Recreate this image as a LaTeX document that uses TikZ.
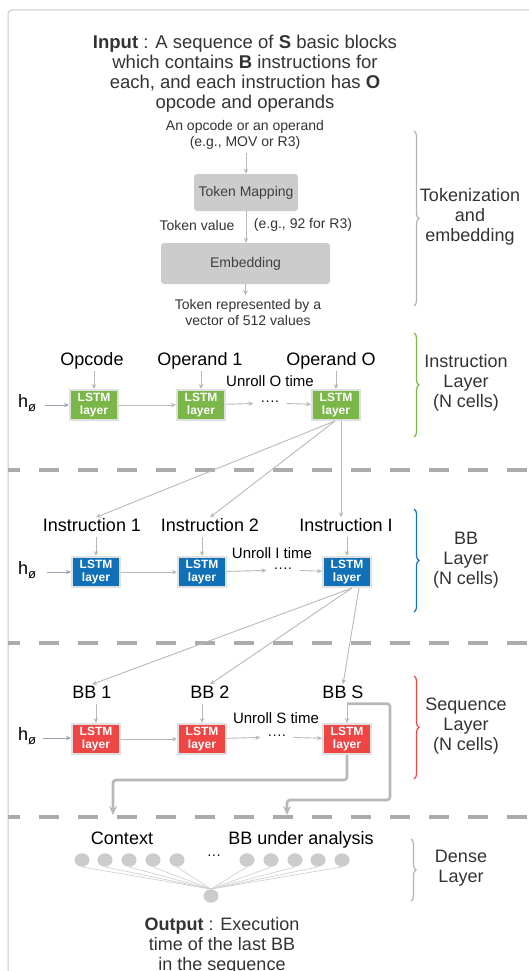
\documentclass[tikz,border=0pt]{standalone}
\usepackage{fontspec}
\setmainfont{Liberation Sans}
\usetikzlibrary{arrows.meta,decorations.pathreplacing}
\definecolor{lstmgreen}{HTML}{7AB648}
\definecolor{lstmblue}{HTML}{1071B8}
\definecolor{lstmred}{HTML}{EE4545}
\definecolor{linegray}{HTML}{B8B8B8}
\definecolor{boxgray}{HTML}{CCCCCC}
\definecolor{textgray}{HTML}{333333}
\definecolor{hgray}{HTML}{9AA6B4}
\tikzset{
  >={Stealth[length=5pt,width=4.5pt]},
  flow/.style={->,draw=linegray,line width=0.9pt},
  feed/.style={-{Stealth[length=9pt,width=8pt]},draw=linegray,line width=2.6pt,rounded corners=3pt},
  lstm/.style={draw=black!12,line width=2pt,minimum width=48pt,minimum height=30pt,inner sep=0pt,text=white,align=center,font=\fontsize{12}{13}\selectfont\bfseries},
  tokbox/.style={fill=boxgray,rounded corners=3pt,text=black!75,font=\fontsize{14}{16}\selectfont},
  lbl/.style={font=\fontsize{18}{20}\selectfont,text height=13pt,text depth=4pt,inner sep=1pt},
  side/.style={font=\fontsize{18}{20}\selectfont,text=textgray,align=center},
  note/.style={font=\fontsize{14}{16}\selectfont,text=textgray,align=center},
  unroll/.style={font=\fontsize{15}{17}\selectfont},
  dots/.style={font=\fontsize{14}{16}\selectfont,inner sep=7pt},
  layersep/.style={draw=black!33,line width=4pt,dash pattern=on 20pt off 19pt,dash phase=8pt},
  cbrace/.style={decorate,decoration={brace,amplitude=5pt},line width=1.2pt},
  neuron/.style={ellipse,fill=boxgray,minimum width=15pt,minimum height=13.5pt,inner sep=0pt},
}
\usetikzlibrary{shapes.geometric}
\begin{document}
\begin{tikzpicture}[x=1pt,y=-1pt]
  \useasboundingbox (0,0) rectangle (529,971);
  \clip (0,0) rectangle (529,971);
  % Frame
  \draw[black!22,line width=1pt,rounded corners=4pt] (8,10) rectangle (560,1000);

  % Tokenization and embedding
  \node[font=\fontsize{18.5}{20}\selectfont,text=textgray,align=center] (input) at (245,74)
    {\textbf{Input} : A sequence of \textbf{S} basic blocks\\which contains \textbf{B} instructions for\\each, and each instruction has \textbf{O}\\opcode and operands};
  \node[note] (tokin) at (245,135) {An opcode or an operand\\(e.g., MOV or R3)};
  \node[tokbox,minimum width=104pt,minimum height=37pt] (tokmap) at (246,192.5) {Token Mapping};
  \node[tokbox,minimum width=169pt,minimum height=41pt] (embed) at (245.5,263.5) {Embedding};
  \node[note] (tokrep) at (248,312) {Token represented by a\\vector of 512 values};
  \node[note] (tokval) at (197,225) {Token value};
  \node[note] (tokex) at (303,225) {(e.g., 92 for R3)};
  \draw[flow] (tokin.south -| tokmap) -- (tokmap.north);
  \draw[flow] (tokmap.south) -- (tokmap.south |- embed.north);
  \draw[flow] (embed.south) -- (embed.south |- tokrep.north);
  \draw[cbrace,black!30] (414,131) -- (414,306);
  \node[side] (tokside) at (470,217) {Tokenization\\and\\embedding};

  % Instruction layer
  \node[lbl] (opc) at (92,361) {Opcode};
  \node[lbl] (opd1) at (200,361) {Operand 1};
  \node[lbl] (opdO) at (331,361) {Operand O};
  \node[lstm,fill=lstmgreen] (g1) at (94,405) {LSTM\\layer};
  \node[lstm,fill=lstmgreen] (g2) at (201,405) {LSTM\\layer};
  \node[lstm,fill=lstmgreen] (gO) at (336,405) {LSTM\\layer};
  \node[dots] (gd) at (270,403) {····};
  \node[unroll] (gun) at (270,381) {Unroll O time};
  \node[lbl] (h1) at (27,403) {h\raisebox{-4pt}{\fontsize{13}{13}\selectfont ø}};
  \draw[flow,hgray] (h1.east) ++(8,2) coordinate (h1s) -- (h1s -| g1.west);
  \draw[flow] (opc.south -| g1) -- (g1.north);
  \draw[flow] (opd1.south -| g2) -- (g2.north);
  \draw[flow] (opdO.south -| gO) -- (gO.north);
  \draw[flow] (g1) -- (g2);
  \draw[flow] (g2) -- (gd);
  \draw[flow] (gd) -- (gO);
  \draw[cbrace,lstmgreen] (414,333) -- (414,437);
  \node[side] (insside) at (466,383) {Instruction\\Layer\\(N cells)};

  \draw[layersep] (8,470) -- (529,470);

  % BB layer
  \node[lbl] (ins1) at (92,527) {Instruction 1};
  \node[lbl] (ins2) at (210,527) {Instruction 2};
  \node[lbl] (insI) at (346,527) {Instruction I};
  \node[lstm,fill=lstmblue] (b1) at (96,572) {LSTM\\layer};
  \node[lstm,fill=lstmblue] (b2) at (202,572) {LSTM\\layer};
  \node[lstm,fill=lstmblue] (bI) at (347,572) {LSTM\\layer};
  \node[dots] (bd) at (283,570) {····};
  \node[unroll] (bun) at (272,553) {Unroll I time};
  \node[lbl] (h2) at (27,570) {h\raisebox{-4pt}{\fontsize{13}{13}\selectfont ø}};
  \draw[flow,hgray] (h2.east) ++(10,2) coordinate (h2s) -- (h2s -| b1.west);
  \draw[flow] ([xshift=-1pt]gO.south) -- (ins1.north -| b1);
  \draw[flow] ([xshift=-1pt]gO.south) -- (ins2.north);
  \draw[flow] ([xshift=5pt]gO.south) -- ([xshift=5pt]gO.south |- insI.north);
  \draw[flow] (ins1.south -| b1) -- (b1.north);
  \draw[flow] (ins2.south -| b2) -- (b2.north);
  \draw[flow] (insI.south -| bI) -- (bI.north);
  \draw[flow] (b1) -- (b2);
  \draw[flow] (b2) -- (bd);
  \draw[flow] (bd) -- (bI);
  \draw[cbrace,lstmblue] (414,509) -- (414,612);
  \node[side] (bbside) at (466,560) {BB\\Layer\\(N cells)};

  \draw[layersep] (8,643) -- (529,643);

  % Sequence layer
  \node[lbl] (bb1) at (92,694) {BB 1};
  \node[lbl] (bb2) at (210,694) {BB 2};
  \node[lbl] (bbS) at (343,694) {BB S};
  \node[lstm,fill=lstmred] (r1) at (96,739) {LSTM\\layer};
  \node[lstm,fill=lstmred] (r2) at (202,739) {LSTM\\layer};
  \node[lstm,fill=lstmred] (rS) at (347,739) {LSTM\\layer};
  \node[dots] (rd) at (277,737) {····};
  \node[unroll] (run) at (276,718) {Unroll S time};
  \node[lbl] (h3) at (27,736) {h\raisebox{-4pt}{\fontsize{13}{13}\selectfont ø}};
  \draw[flow,hgray] (h3.east) ++(6,2) coordinate (h3s) -- (h3s -| r1.west);
  \draw[flow] ([xshift=5pt]bI.south) -- (bb1.north);
  \draw[flow] ([xshift=5pt]bI.south) -- (bb2.north);
  \draw[flow] ([xshift=12pt]bI.south) -- (bbS.north);
  \draw[flow] (bb1.south -| r1) -- (r1.north);
  \draw[flow] (bb2.south -| r2) -- (r2.north);
  \draw[flow] (bbS.south -| rS) -- (rS.north);
  \draw[flow] (r1) -- (r2);
  \draw[flow] (r2) -- (rd);
  \draw[flow] (rd) -- (rS);
  \coordinate (ctxin) at (113,815);
  \coordinate (bbin) at (287,815);
  \draw[feed] (rS.south) |- (200,780) -| (ctxin);
  \draw[feed] (bbS.south -| rS) -| (390,800) -| (bbin);
  \draw[cbrace,lstmred] (414,676) -- (414,779);
  \node[side] (seqside) at (466,726) {Sequence\\Layer\\(N cells)};

  \draw[layersep] (8,817) -- (529,817);

  % Dense layer
  \node[lbl] (ctx) at (122,840) {Context};
  \node[lbl] (bbua) at (301,840) {BB under analysis};
  \foreach \x [count=\i] in {82,105,129,153,177,247,271,295,318,342}
    \node[neuron] (n\i) at (\x,860) {};
  \node[font=\fontsize{14}{16}\selectfont] (nd) at (214,857) {···};
  \node[neuron] (out) at (211,896) {};
  \foreach \i in {1,...,10}
    \draw[black!18,line width=0.7pt] (n\i.south) -- (out.north);
  \draw[cbrace,black!30] (411,839) -- (411,901);
  \node[side] (denseside) at (461,868) {Dense\\Layer};
  \node[side] (output) at (222,946) {\textbf{Output} : Execution\\time of the last BB\\in the sequence};
\end{tikzpicture}
\end{document}
